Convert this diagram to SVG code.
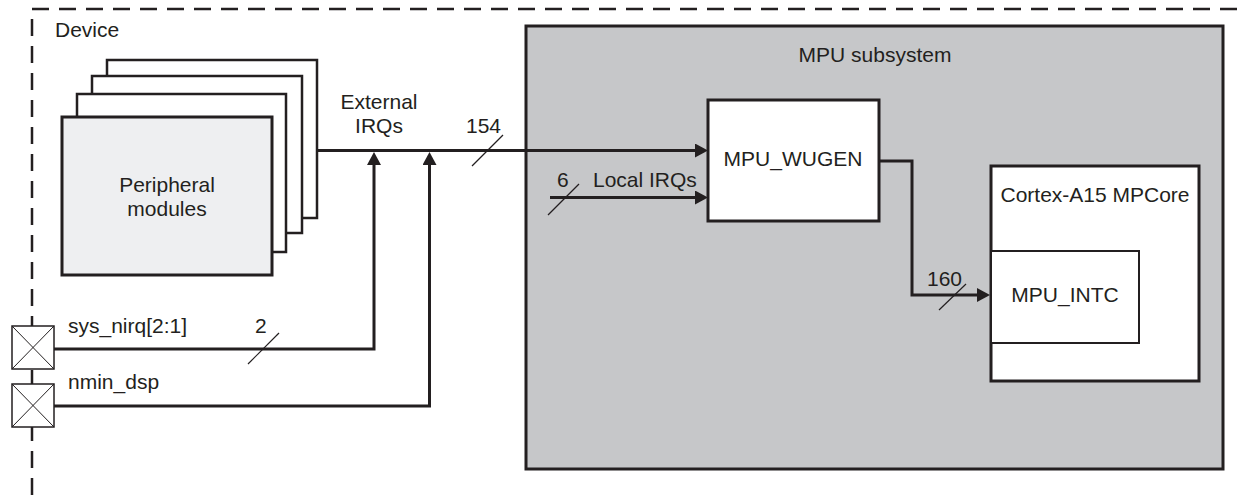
<svg xmlns="http://www.w3.org/2000/svg" width="1243" height="495" viewBox="0 0 1243 495">
<defs>
<style>
text{font-family:"Liberation Sans",Arial,sans-serif;font-size:21px;fill:#231f20}
.box{stroke:#231f20;stroke-width:3;fill:#fff}
.back{stroke:#231f20;stroke-width:2.5;fill:#fff}
.wire{stroke:#231f20;stroke-width:3;fill:none}
.slash{stroke:#231f20;stroke-width:1.2;fill:none}
.pad{stroke:#231f20;stroke-width:1.5;fill:#fff}
.padx{stroke:#231f20;stroke-width:1;fill:none}
.mid{text-anchor:middle}
</style>
<marker id="ah" markerUnits="userSpaceOnUse" markerWidth="14" markerHeight="14" refX="9" refY="7" orient="auto">
<path d="M0,0 L13,7 L0,14 z" fill="#231f20"/>
</marker>
</defs>
<rect width="1243" height="495" fill="#fff"/>
<g id="device">
<path d="M32 495 L32 9 L1243 9" fill="none" stroke="#231f20" stroke-width="2.5" stroke-dasharray="17 10"/>
<text x="55" y="37">Device</text>
</g>
<g id="mpu-subsystem">
<rect x="526" y="26" width="697" height="443" fill="#c6c7c9" stroke="#231f20" stroke-width="3"/>
<text class="mid" x="875" y="62">MPU subsystem</text>
</g>
<g id="peripheral-modules">
<rect class="back" x="107" y="60" width="210" height="158"/>
<rect class="back" x="92" y="76" width="210" height="157"/>
<rect class="back" x="77" y="94" width="209" height="158"/>
<rect x="62" y="117" width="210" height="158" fill="#eeeff1" stroke="#231f20" stroke-width="3"/>
<text class="mid" x="167" y="192">Peripheral</text>
<text class="mid" x="167" y="216">modules</text>
</g>
<g id="pad-sys-nirq">
<rect class="pad" x="12" y="326" width="42" height="43"/>
<path class="padx" d="M12 326 L54 369 M54 326 L12 369"/>
<text x="68" y="333">sys_nirq[2:1]</text>
</g>
<g id="pad-nmin-dsp">
<rect class="pad" x="12" y="384" width="42" height="43"/>
<path class="padx" d="M12 384 L54 427 M54 384 L12 427"/>
<text x="68" y="389">nmin_dsp</text>
</g>
<g id="mpu-wugen">
<rect class="box" x="708" y="100" width="171" height="121"/>
<text class="mid" x="793" y="166">MPU_WUGEN</text>
</g>
<g id="cortex-a15">
<rect class="box" x="991" y="166" width="208" height="215"/>
<text class="mid" x="1095" y="202">Cortex-A15 MPCore</text>
</g>
<g id="mpu-intc">
<rect x="991" y="251" width="148" height="92" fill="#fff" stroke="#231f20" stroke-width="2"/>
<text class="mid" x="1065" y="302">MPU_INTC</text>
</g>
<g id="connectors">
<path class="wire" d="M317 150.5 L704 150.5" marker-end="url(#ah)"/>
<path class="wire" d="M54 349 L374 349 L374 156" marker-end="url(#ah)"/>
<path class="wire" d="M54 406 L429.5 406 L429.5 156" marker-end="url(#ah)"/>
<path class="wire" d="M550 197.5 L704 197.5" marker-end="url(#ah)"/>
<path class="wire" d="M879 161 L912 161 L912 295 L986 295" marker-end="url(#ah)"/>
<path class="slash" d="M472 166 L503 135"/>
<path class="slash" d="M548 215 L579 184"/>
<path class="slash" d="M248 364 L279 333"/>
<path class="slash" d="M939 310 L966 284"/>
<text class="mid" x="379" y="109">External</text>
<text class="mid" x="379" y="133">IRQs</text>
<text x="466" y="133">154</text>
<text x="557" y="187">6</text>
<text x="593" y="187">Local IRQs</text>
<text x="255" y="333">2</text>
<text x="927" y="286">160</text>
</g>
</svg>
